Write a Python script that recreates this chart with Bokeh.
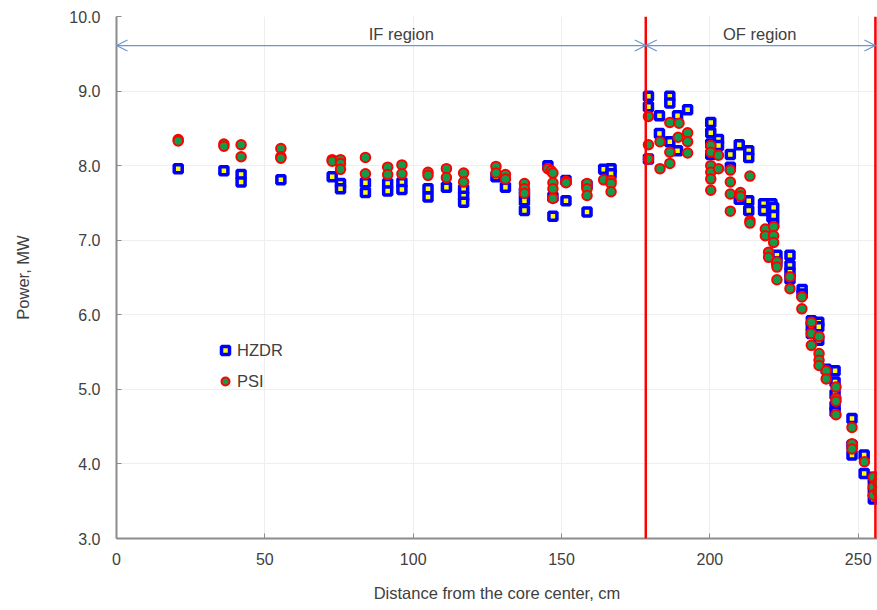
from bokeh.plotting import figure
from bokeh.models import Span, Arrow, OpenHead, Label, Legend, LegendItem, FixedTicker, NumeralTickFormatter, Range1d
from bokeh.embed import file_html
from bokeh.resources import INLINE

# ---------------- data ----------------
hzdr_x = [20.8, 36.2, 42.0, 42.0, 55.4, 72.7, 75.5, 75.5, 83.9, 83.9,
          91.4, 91.4, 96.2, 96.2, 105.0, 105.0, 111.2, 117.0, 117.0, 117.0,
          127.9, 131.1, 137.5, 137.5, 137.5, 145.4, 147.1, 147.1, 151.5, 151.5,
          158.6, 158.6, 164.2, 166.7, 166.7,
          179.3, 179.3, 179.3, 183.0, 183.0, 186.5, 186.5, 186.5, 189.1, 189.1,
          192.5, 200.3, 200.3, 200.3, 200.3, 202.9, 202.9, 206.9, 206.9, 209.9,
          209.9, 213.1, 213.1, 213.1, 213.1, 218.1, 218.1, 220.9, 220.9, 220.9,
          221.5, 221.5, 221.5, 222.6, 222.6, 227.0, 227.0, 227.0, 227.0, 231.1,
          231.1, 234.2, 234.2, 234.2, 236.7, 236.7, 236.7, 239.2, 242.2, 242.2,
          242.2, 242.2, 242.2, 247.9, 247.9, 247.9, 252.0, 252.0, 255.1, 255.1,
          255.1, 255.1, 256.5, 256.5]
hzdr_y = [7.96, 7.93, 7.88, 7.78, 7.81, 7.85, 7.76, 7.69, 7.77, 7.64,
          7.76, 7.66, 7.77, 7.68, 7.69, 7.58, 7.71, 7.68, 7.59, 7.51,
          7.85, 7.71, 7.64, 7.53, 7.40, 8.00, 7.58, 7.32, 7.80, 7.53,
          7.74, 7.38, 7.95, 7.96, 7.89,
          8.93, 8.79, 8.09, 8.67, 8.43, 8.93, 8.84, 8.32, 8.67, 8.20,
          8.75, 8.58, 8.44, 8.29, 8.15, 8.35, 8.27, 8.15, 7.98, 8.28,
          7.55, 8.20, 8.11, 7.53, 7.40, 7.49, 7.40, 7.49, 7.40, 7.31,
          7.44, 7.33, 7.22, 6.80, 6.71, 6.80, 6.66, 6.57, 6.48, 6.34,
          6.28, 5.92, 5.85, 5.75, 5.90, 5.84, 5.66, 5.27, 5.25, 5.10,
          4.93, 4.78, 4.70, 4.61, 4.25, 4.12, 4.12, 3.87, 3.82, 3.72,
          3.62, 3.53, 3.75, 3.60]

psi_x = [20.8, 20.8, 36.2, 36.2, 42.0, 42.0, 55.4, 55.4, 55.4, 72.7,
         72.7, 75.5, 75.5, 75.5, 83.9, 83.9, 91.4, 91.4, 96.2, 96.2,
         105.0, 105.0, 111.2, 111.2, 117.0, 117.0, 127.9, 127.9, 131.1, 131.1,
         137.5, 137.5, 137.5, 145.4, 146.5, 147.1, 147.1, 147.1, 147.1, 151.5,
         151.5, 158.6, 158.6, 158.6, 164.2, 166.7, 166.7, 166.7,
         179.3, 179.3, 179.3, 183.2, 183.2, 186.5, 186.5, 186.5, 189.6, 189.3,
         192.5, 192.5, 192.5, 200.3, 200.3, 200.3, 200.3, 200.3, 200.3, 202.9,
         202.9, 206.9, 206.9, 206.9, 206.9, 210.3, 210.3, 213.5, 213.5, 213.5,
         218.7, 218.7, 221.5, 221.5, 221.5, 219.8, 219.8, 222.6, 222.6, 222.6,
         227.0, 227.0, 231.0, 231.0, 234.2, 234.2, 234.2, 236.8, 236.8, 236.8,
         236.8, 239.2, 239.2, 242.5, 242.5, 242.5, 242.5, 247.9, 247.9, 247.9,
         252.1, 255.1, 255.1, 255.1, 256.6, 256.6]
psi_y = [8.35, 8.33, 8.29, 8.26, 8.28, 8.12, 8.23, 8.12, 8.10, 8.08,
         8.06, 8.08, 8.03, 7.95, 8.11, 7.89, 7.98, 7.88, 8.01, 7.89,
         7.91, 7.87, 7.96, 7.84, 7.90, 7.78, 7.99, 7.90, 7.88, 7.82,
         7.76, 7.69, 7.63, 7.96, 7.93, 7.90, 7.77, 7.69, 7.56, 7.79,
         7.77, 7.76, 7.69, 7.60, 7.81, 7.80, 7.76, 7.65,
         8.66, 8.28, 8.09, 8.32, 7.96, 8.58, 8.18, 8.03, 8.57, 8.38,
         8.44, 8.32, 8.17, 8.27, 8.18, 8.00, 7.91, 7.82, 7.67, 8.14,
         7.96, 7.94, 7.78, 7.62, 7.39, 7.64, 7.59, 7.86, 7.26, 7.23,
         7.15, 7.06, 7.18, 7.06, 6.97, 6.84, 6.77, 6.71, 6.64, 6.47,
         6.51, 6.35, 6.24, 6.08, 5.90, 5.75, 5.59, 5.71, 5.48, 5.39,
         5.32, 5.25, 5.14, 5.03, 4.88, 4.84, 4.66, 4.49, 4.27, 4.20,
         4.03, 3.82, 3.69, 3.58, 3.75, 3.63]

x_ticks = [0, 50, 100, 150, 200, 250]
y_ticks = [3.0, 4.0, 5.0, 6.0, 7.0, 8.0, 9.0, 10.0]
region_bounds = [0, 178.4, 255.8]
region_labels = ["IF region", "OF region"]
arrow_level = 9.61
label_level = 9.77

# ---------------- figure ----------------
FONT = "Liberation Sans Narrow, Arial Narrow, Liberation Sans, sans-serif"
TXT = "#404040"

p = figure(width=877, height=610, output_backend="svg", toolbar_location=None,
           x_range=Range1d(0, 256.5), y_range=Range1d(3.0, 10.0),
           min_border_left=116, min_border_right=0, min_border_top=16, min_border_bottom=72)
p.outline_line_color = None
p.background_fill_color = "white"

for ax in (p.xaxis[0], p.yaxis[0]):
    ax.axis_line_color = "#8c8c8c"
    ax.axis_line_width = 2
    ax.major_tick_line_color = "#8c8c8c"
    ax.major_tick_line_width = 1
    ax.major_tick_in = 5
    ax.major_tick_out = 0
    ax.minor_tick_line_color = None
    ax.major_label_text_font = FONT
    ax.major_label_text_font_size = "16px"
    ax.major_label_text_color = TXT
    ax.axis_label_text_font = FONT
    ax.axis_label_text_font_size = "16.5px"
    ax.axis_label_text_color = TXT
    ax.axis_label_text_font_style = "normal"

p.xaxis.ticker = FixedTicker(ticks=x_ticks)
p.yaxis.ticker = FixedTicker(ticks=y_ticks)
p.yaxis.formatter = NumeralTickFormatter(format="0.0")
p.xaxis.axis_label = "Distance from the core center, cm"
p.yaxis.axis_label = "Power, MW"
p.xaxis.major_label_standoff = 14
p.yaxis.major_label_standoff = 16
p.xaxis.axis_label_standoff = 16
p.yaxis.axis_label_standoff = 34

p.xgrid.grid_line_color = "#eeeeee"
p.ygrid.grid_line_color = "#eeeeee"
p.xgrid.ticker = FixedTicker(ticks=x_ticks)
p.ygrid.ticker = FixedTicker(ticks=y_ticks)

# region boundaries
for xb in region_bounds[1:]:
    p.add_layout(Span(location=xb, dimension="height", line_color="#ff0000", line_width=2.5))

# region arrows and labels
ARROW_C = "#6a96cf"
for i in range(2):
    p.add_layout(Arrow(x_start=region_bounds[i], x_end=region_bounds[i + 1],
                       y_start=arrow_level, y_end=arrow_level,
                       line_color=ARROW_C, line_width=1.2,
                       start=OpenHead(size=11, line_color=ARROW_C, line_width=1.2),
                       end=OpenHead(size=11, line_color=ARROW_C, line_width=1.2)))
label_x = [96.0, 216.8]
for lx, txt in zip(label_x, region_labels):
    p.add_layout(Label(x=lx, y=label_level, text=txt, text_align="center", text_baseline="middle",
                       text_font=FONT, text_font_size="16.5px", text_color=TXT))

# data
r_h = p.scatter(hzdr_x, hzdr_y, marker="square", size=8, fill_color="#ffff00",
                line_color="#0000ff", line_width=3.5)
r_p = p.scatter(psi_x, psi_y, marker="circle", size=9.5, fill_color="#119c4a",
                line_color="#ff0000", line_width=2)

legend = Legend(items=[LegendItem(label="HZDR", renderers=[r_h]),
                       LegendItem(label="PSI", renderers=[r_p])],
                location=(99, 147), orientation="vertical",
                background_fill_alpha=0, border_line_alpha=0,
                padding=0, margin=0, spacing=11, glyph_width=20, glyph_height=20,
                label_height=20, label_standoff=2,
                label_text_font=FONT, label_text_font_size="16.5px", label_text_color=TXT)
p.add_layout(legend, "center")

open("out.html", "w").write(file_html(p, INLINE))
